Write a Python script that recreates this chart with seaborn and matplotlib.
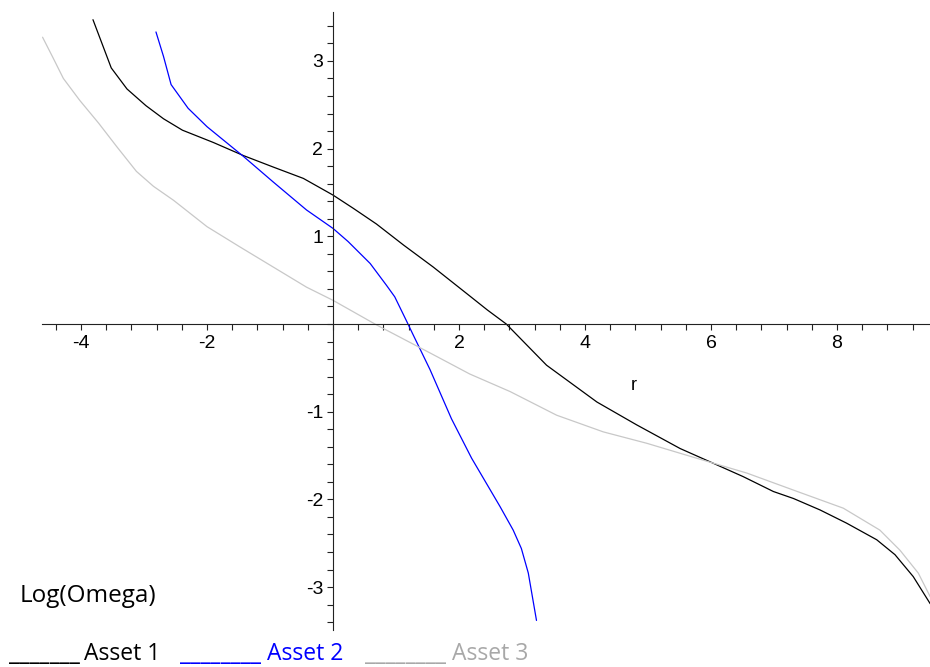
import numpy as np
import pandas as pd
import matplotlib
matplotlib.use("Agg")
import matplotlib.pyplot as plt
import seaborn as sns

# curves (r, Log(Omega))
asset1_r = [-3.81, -3.52, -3.27, -2.97, -2.69, -2.39, -1.90, -1.42, -0.95, -0.47, 0.0,
            0.32, 0.69, 1.12, 1.59, 2.17, 2.45, 2.75, 3.39, 4.19, 4.82, 5.51, 5.98,
            6.51, 6.99, 7.31, 7.73, 8.15, 8.63, 8.92, 9.21, 9.48]
asset1_w = [3.47, 2.92, 2.68, 2.49, 2.34, 2.21, 2.07, 1.92, 1.79, 1.66, 1.47,
            1.32, 1.14, 0.90, 0.65, 0.32, 0.16, 0.0, -0.47, -0.89, -1.15, -1.42, -1.57,
            -1.74, -1.91, -1.99, -2.12, -2.27, -2.46, -2.63, -2.88, -3.19]

asset2_r = [-2.81, -2.69, -2.57, -2.30, -2.00, -1.42, -0.95, -0.42, 0.0, 0.24, 0.59,
            0.85, 0.98, 1.17, 1.27, 1.54, 1.88, 2.20, 2.65, 2.86, 2.99, 3.10, 3.23]
asset2_w = [3.33, 3.05, 2.73, 2.46, 2.25, 1.91, 1.62, 1.30, 1.09, 0.94, 0.69,
            0.44, 0.31, 0.03, -0.12, -0.52, -1.08, -1.53, -2.08, -2.35, -2.56, -2.84, -3.38]

asset3_r = [-4.61, -4.44, -4.28, -4.02, -3.72, -3.43, -3.12, -2.85, -2.53, -2.0, -1.48,
            -0.95, -0.42, 0.0, 0.69, 1.54, 2.17, 2.81, 3.55, 4.29, 4.98, 5.77, 6.57,
            7.37, 8.10, 8.68, 9.0, 9.29, 9.48]
asset3_w = [3.27, 3.03, 2.80, 2.55, 2.29, 2.02, 1.74, 1.57, 1.41, 1.11, 0.88,
            0.65, 0.42, 0.27, -0.01, -0.33, -0.57, -0.77, -1.04, -1.23, -1.36, -1.53, -1.70,
            -1.91, -2.10, -2.35, -2.58, -2.84, -3.11]

assets = ["Asset 1", "Asset 2", "Asset 3"]
colors = {"Asset 1": "black", "Asset 2": "#0000ff", "Asset 3": "#c8c8c8"}
legend_colors = {"Asset 1": "black", "Asset 2": "#0000ff", "Asset 3": "#a8a8a8"}

x_labels = [-4, -2, 2, 4, 6, 8]
y_labels = [-3, -2, -1, 1, 2, 3]

frames = []
for name, r, w in zip(assets, [asset1_r, asset2_r, asset3_r], [asset1_w, asset2_w, asset3_w]):
    frames.append(pd.DataFrame({"r": r, "logomega": w, "asset": name}))
df = pd.concat(frames, ignore_index=True)

sns.set_style("white")
plt.rcParams["font.family"] = ["Liberation Sans", "DejaVu Sans"]
plt.rcParams["text.color"] = "black"

fig = plt.figure(figsize=(9.3, 6.67), dpi=100)
ax = fig.add_axes([0, 0, 1, 1])

sns.lineplot(data=df, x="r", y="logomega", hue="asset", palette=colors, sort=False,
             estimator=None, units="asset", legend=False, linewidth=0.9, ax=ax)

ax.set_xlim(-333 / 63, (930 - 333) / 63)
ax.set_ylim((324 - 667) / 87.7, 324 / 87.7)

# axes crossing at the origin, maple style
for side in ["top", "right"]:
    ax.spines[side].set_visible(False)
ax.spines["left"].set_position(("data", 0))
ax.spines["bottom"].set_position(("data", 0))
ax.spines["left"].set_bounds(-3.49, 3.56)
ax.spines["bottom"].set_bounds(-4.62, 9.48)
for side in ["left", "bottom"]:
    ax.spines[side].set_color("#222222")
    ax.spines[side].set_linewidth(0.8)

xt = np.round(np.arange(-4.4, 9.25, 0.4), 1)
yt = np.round(np.arange(-3.4, 3.45, 0.2), 1)
ax.set_xticks(xt)
ax.set_yticks(yt)
ax.set_xticklabels([str(int(round(v))) if abs(v - round(v)) < 1e-6 and int(round(v)) in x_labels else "" for v in xt])
ax.set_yticklabels([str(int(round(v))) if abs(v - round(v)) < 1e-6 and int(round(v)) in y_labels else "" for v in yt])
ax.tick_params(bottom=True, left=True, direction="out", length=4, width=0.8,
               color="#222222", labelsize=14, labelcolor="black")
ax.tick_params(axis="x", pad=4)
ax.tick_params(axis="y", pad=3)
ax.set_xlabel("")
ax.set_ylabel("")
ax.grid(False)

ax.text(4.78, -0.70, "r", ha="center", va="center", fontsize=13)

W, H = 930, 667
fig.text(20 / W, 1 - 602 / H, "Log(Omega)", ha="left", va="baseline", fontsize=17.5,
         color="black", family=["Open Sans", "DejaVu Sans"])

legend_items = [("Asset 1", "_______", 9, 84), ("Asset 2", "________", 180, 267),
                ("Asset 3", "________", 365, 452)]
for name, bar, xb, xl in legend_items:
    fig.text(xb / W, 1 - 660 / H, bar, ha="left", va="baseline", fontsize=16.5,
             color=legend_colors[name], family=["Open Sans", "DejaVu Sans"])
    fig.text(xl / W, 1 - 660 / H, name, ha="left", va="baseline", fontsize=16.5,
             color=legend_colors[name], family=["Open Sans", "DejaVu Sans"])

fig.savefig("out.png", dpi=100)
